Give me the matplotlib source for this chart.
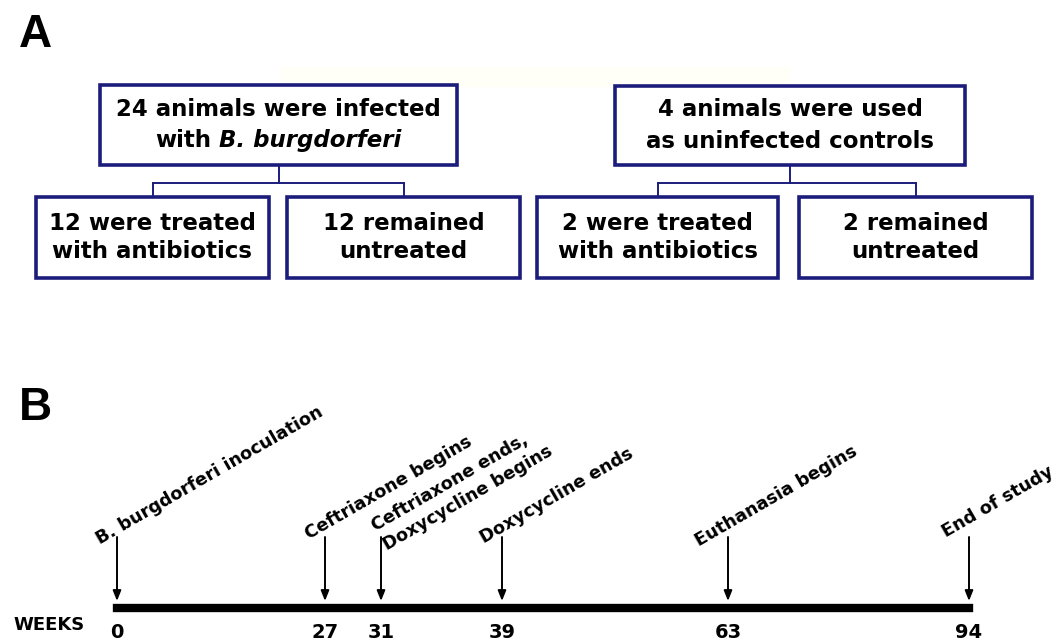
import numpy as np
import matplotlib.pyplot as plt
from matplotlib.patches import Rectangle

# panel A: study groups (text between * is italic)
GROUP_TITLES = ['24 animals were infected\nwith *B. burgdorferi*',
                '4 animals were used\nas uninfected controls']
SUBGROUPS = [['12 were treated\nwith antibiotics', '12 remained\nuntreated'],
             ['2 were treated\nwith antibiotics', '2 remained\nuntreated']]

# panel B: timeline
WEEKS = [0, 27, 31, 39, 63, 94]
EVENTS = ['B. burgdorferi inoculation', 'Ceftriaxone begins',
          'Ceftriaxone ends,\nDoxycycline begins', 'Doxycycline ends',
          'Euthanasia begins', 'End of study']

# layout (pixels)
W, H = 1057, 641
TOP_BOXES = [(100, 85, 457, 165), (615, 86, 965, 165)]
SUB_BOXES = [[(36, 197, 269, 278), (287, 197, 520, 278)],
             [(537, 197, 778, 278), (799, 197, 1032, 278)]]
TICK_PX = [117, 325, 381, 502, 728, 969]   # the drawing is not to scale
LABEL_OFFSETS = [(-17, 7), (-16, 2), (6, 13), (-18, 6), (-29, 9), (-23, 0)]
ANGLE = 30
NAVY = '#1c1c7c'
FONT = 'DejaVu Sans'
BOX_FS = 16.5

fig = plt.figure(figsize=(W / 100, H / 100), dpi=100)
ax = fig.add_axes([0, 0, 1, 1])
ax.set_xlim(0, W)
ax.set_ylim(H, 0)
ax.axis('off')
renderer = fig.canvas.get_renderer()


def rich_line(xc, y, s, size):
    parts = s.split('*')
    texts = []
    for i, p in enumerate(parts):
        if not p:
            continue
        t = ax.text(0, y, p.strip(), fontsize=size, fontweight='bold', family=FONT,
                    style='italic' if i % 2 else 'normal', ha='left', va='center')
        texts.append((t, p))
    sp = ax.text(0, 0, 'x x', fontsize=size, fontweight='bold', family=FONT)
    sp2 = ax.text(0, 0, 'xx', fontsize=size, fontweight='bold', family=FONT)
    space = sp.get_window_extent(renderer).width - sp2.get_window_extent(renderer).width
    sp.remove()
    sp2.remove()
    widths = []
    for t, p in texts:
        w = t.get_window_extent(renderer).width
        if p.endswith(' '):
            w += space
        if p.startswith(' '):
            w += space
        widths.append(w)
    x = xc - sum(widths) / 2
    for (t, p), w in zip(texts, widths):
        t.set_x(x + (space if p.startswith(' ') else 0))
        x += w


def box(b, label, gap):
    x0, y0, x1, y1 = b
    ax.add_patch(Rectangle((x0, y0), x1 - x0, y1 - y0, fill=False,
                           edgecolor=NAVY, lw=2.6, zorder=3))
    lines = label.split('\n')
    yc = (y0 + y1) / 2
    for k, line in enumerate(lines):
        rich_line((x0 + x1) / 2, yc + (k - 0.5) * gap * 2, line, BOX_FS)


# faint background strip seen at the top of panel A
ax.add_patch(Rectangle((280, 67), 510, 20, facecolor='#fffff7', edgecolor='none', zorder=0))

for top, title, subs, sublabels in zip(TOP_BOXES, GROUP_TITLES, SUB_BOXES, SUBGROUPS):
    box(top, title, 15.5)
    cx = (top[0] + top[2]) / 2
    ymid = 183
    c1 = (subs[0][0] + subs[0][2]) / 2
    c2 = (subs[1][0] + subs[1][2]) / 2
    ax.plot([cx, cx], [top[3], ymid], color=NAVY, lw=1.4)
    ax.plot([c1, c2], [ymid, ymid], color=NAVY, lw=1.4)
    ax.plot([c1, c1], [ymid, subs[0][1]], color=NAVY, lw=1.4)
    ax.plot([c2, c2], [ymid, subs[1][1]], color=NAVY, lw=1.4)
    for b, lab in zip(subs, sublabels):
        box(b, lab, 14)

ax.text(19, 47, 'A', fontsize=33, fontweight='bold', family='Liberation Sans', va='baseline')
ax.text(19, 420, 'B', fontsize=33, fontweight='bold', family='Liberation Sans', va='baseline')
ax.text(13, 625, 'WEEKS', fontsize=13, fontweight='bold', family=FONT, va='center')

# timeline axes: weeks mapped onto the (uneven) drawing positions
slope = 9.2
wk_ext = [WEEKS[0] - 200] + WEEKS + [WEEKS[-1] + 200]
px_ext = [TICK_PX[0] - 200 * slope] + TICK_PX + [TICK_PX[-1] + 200 * slope]


def fwd(w):
    return np.interp(w, wk_ext, px_ext)


def inv(p):
    return np.interp(p, px_ext, wk_ext)


axb = fig.add_axes([0, 0, 1, 1])
axb.patch.set_alpha(0)
axb.set_xscale('function', functions=(fwd, inv))
axb.set_xlim(inv(0), inv(W))
axb.set_ylim(H, 0)
axb.axis('off')

axb.plot([WEEKS[0], WEEKS[-1]], [608, 608], color='black', lw=6,
         solid_capstyle='projecting')
th = np.radians(ANGLE)
gap = 23  # px between the lines of a two-line label
for w, ev, (dx, dy) in zip(WEEKS, EVENTS, LABEL_OFFSETS):
    axb.annotate('', xy=(w, 601), xytext=(w, 537),
                 arrowprops=dict(arrowstyle='-|>,head_length=0.5,head_width=0.2',
                                 color='black', lw=1.4, shrinkA=0, shrinkB=0,
                                 mutation_scale=12))
    lines = ev.split('\n')
    n = len(lines)
    for j, line in enumerate(lines):
        k = n - 1 - j
        ox = dx - k * gap * np.sin(th)
        oy = -dy + k * gap * np.cos(th)
        axb.annotate(line, xy=(w, 538), xytext=(ox * 0.72, oy * 0.72),
                     textcoords='offset points', rotation=ANGLE,
                     rotation_mode='anchor', ha='left', va='baseline',
                     fontsize=12.8, fontweight='bold', family=FONT)
    axb.text(w, 633, str(w), ha='center', va='center', fontsize=14,
             fontweight='bold', family=FONT)

fig.savefig('out.png', dpi=100)
